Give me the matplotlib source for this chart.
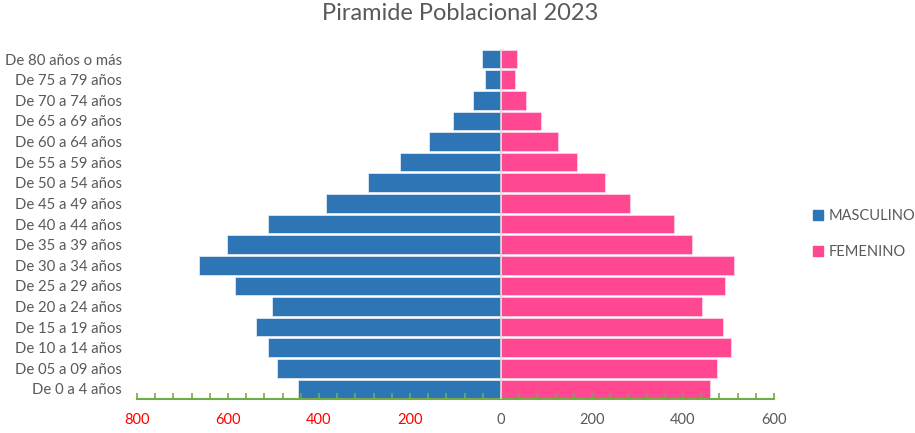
import matplotlib
matplotlib.use("Agg")
import matplotlib.pyplot as plt
import numpy as np
from matplotlib.patches import Patch

categories = ["De 0 a 4 años", "De 05 a 09 años", "De 10 a 14 años", "De 15 a 19 años",
              "De 20 a 24 años", "De 25 a 29 años", "De 30 a 34 años", "De 35 a 39 años",
              "De 40 a 44 años", "De 45 a 49 años", "De 50 a 54 años", "De 55 a 59 años",
              "De 60 a 64 años", "De 65 a 69 años", "De 70 a 74 años", "De 75 a 79 años",
              "De 80 años o más"]
masculino = [447, 493, 511, 539, 503, 584, 664, 603, 511, 385, 292, 222, 158, 105, 61, 35, 41]
femenino = [459, 475, 505, 487, 441, 493, 513, 420, 381, 284, 229, 166, 125, 89, 55, 31, 36]
xticks = [-800, -600, -400, -200, 0, 200, 400, 600]
xticklabels = ["800", "600", "400", "200", "0", "200", "400", "600"]

plt.rcParams['font.family'] = ['Lato', 'DejaVu Sans']
BLUE = '#2E75B6'
PINK = '#FF4891'
GRAY = '#595959'

fig = plt.figure(figsize=(9.15, 4.33), dpi=100)
ax = fig.add_axes([137/915, 1 - 399.3/433, (774-137)/915, (399.3-48.7)/433])

y = np.arange(len(categories))
ax.barh(y, [-v for v in masculino], height=0.9, color=BLUE, edgecolor='#dce8f4', linewidth=0.6)
ax.barh(y, femenino, height=0.9, color=PINK, edgecolor='#ffd0e4', linewidth=0.6)
ax.axvline(0, color='#d9d9d9', lw=1.2, zorder=3)

ax.set_xlim(-800, 600)
ax.set_ylim(-0.5, len(categories) - 0.5)

ax.set_yticks(y)
ax.set_yticklabels(categories, fontsize=10.7, color=GRAY)
ax.tick_params(axis='y', length=0, pad=11)

ax.set_xticks(xticks)
ax.set_xticklabels(xticklabels, fontsize=10.5)
for lbl, v in zip(ax.get_xticklabels(), xticks):
    lbl.set_color('#FF0000' if v < 0 else GRAY)
ax.set_xticks(np.arange(-800, 601, 40), minor=True)
ax.tick_params(axis='x', which='both', direction='in', length=4, width=1.2,
               color='#70AD47', pad=10)

for s in ['top', 'right', 'left']:
    ax.spines[s].set_visible(False)
ax.spines['bottom'].set_color('#70AD47')
ax.spines['bottom'].set_linewidth(1.5)

fig.text(0.503, 1 - 14/433, "Piramide Poblacional 2023", ha='center', va='center',
         fontsize=17, color=GRAY)

handles = [Patch(color=BLUE, label='MASCULINO'), Patch(color=PINK, label='FEMENINO')]
leg = fig.legend(handles=handles, loc='center left', bbox_to_anchor=(800/915, 1 - 234/433),
                 frameon=False, fontsize=10.5, handlelength=0.7, handleheight=0.7,
                 handletextpad=0.35, labelspacing=1.5)
for t in leg.get_texts():
    t.set_color(GRAY)

fig.savefig("out.png", dpi=100)
